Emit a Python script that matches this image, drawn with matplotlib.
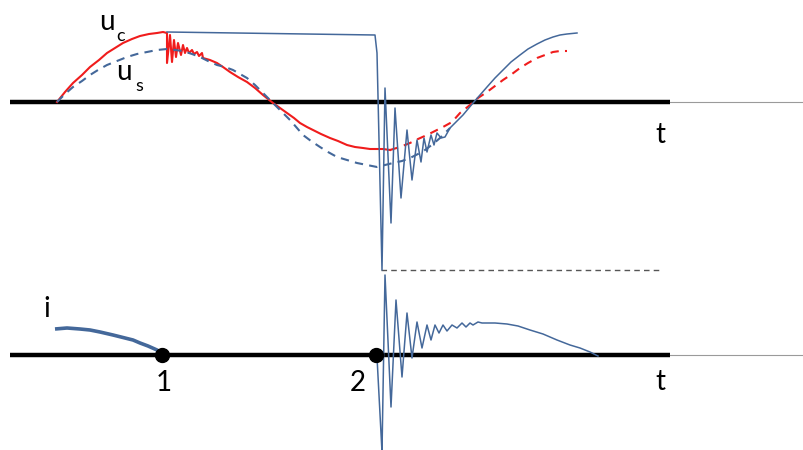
import matplotlib.pyplot as plt

# all values are pixel positions (y grows downward)
axis_top_y = 102
axis_bot_y = 355
axis_x = [10, 670]
axis_fade_x = [670, 804]

# u_c before the first opening (red, solid)
uc_x = [57, 65, 73, 82, 90, 99, 107, 115, 123, 132, 140, 149, 157, 163, 167,
        167, 170, 172, 174, 176, 178, 181, 183, 185, 187, 189, 192, 194, 197, 199, 202, 203,
        210, 217, 223, 230, 238, 247, 255, 263, 273, 280, 287, 294, 300, 307, 313, 321,
        330, 338, 347, 355, 363, 370, 377, 383, 390]
uc_y = [102, 92, 83, 75, 67, 60, 53, 48, 43, 39, 36, 34, 33, 32, 33,
        63, 35, 62, 40, 57, 43, 55, 45, 53, 48, 53, 50, 54, 52, 56, 53, 58,
        60, 63, 67, 72, 77, 82, 88, 95, 103, 108, 113, 118, 123, 127, 130, 134,
        138, 141, 145, 147, 148, 149, 149, 149, 150]
# red dashed continuation
ucd_x = [390, 400, 410, 418, 427, 435, 443, 452, 460, 470, 478, 487, 495, 503, 512,
         520, 528, 537, 545, 553, 560, 567]
ucd_y = [150, 147, 143, 139, 135, 131, 127, 122, 113, 105, 98, 92, 86, 80, 74,
         68, 63, 58, 55, 52, 51, 51]

# source voltage u_s (blue, dashed)
us_x = [57, 65, 73, 82, 90, 98, 107, 117, 127, 137, 147, 157, 167, 175, 183, 192,
        200, 208, 217, 225, 233, 240, 247, 255, 263, 270, 277, 284, 290, 297, 303,
        311, 320, 328, 337, 347, 357, 367, 377, 385, 393, 402, 410, 418, 425, 433,
        440, 450]
us_y = [102, 94, 87, 81, 75, 70, 65, 61, 57, 54, 52, 50, 49, 50, 51, 54,
        57, 61, 65, 67, 70, 74, 78, 85, 93, 100, 107, 114, 120, 128, 135,
        141, 147, 152, 157, 160, 163, 165, 167, 165, 163, 161, 158, 154, 150, 144,
        138, 128]

# capacitor voltage after opening, restrike oscillation, then following u_s
uv_x = [167, 375, 377, 382, 385, 391, 395, 401, 407, 412, 417, 421, 424, 427, 431, 434,
        437, 441, 445, 450, 453, 458, 463, 468, 473, 480, 487, 495, 503, 511, 520,
        528, 537, 545, 553, 560, 567, 577]
uv_y = [32, 35, 53, 270, 88, 223, 108, 198, 130, 180, 140, 162, 138, 152, 135, 145,
        133, 138, 137, 128, 125, 120, 115, 109, 103, 95, 87, 78, 70, 62, 55,
        49, 44, 40, 37, 35, 34, 33]

# reference level of the restrike
ref_x = [381, 660]
ref_y = 270

# current before point 1
i1_x = [55, 67, 80, 90, 100, 113, 125, 133, 140, 148, 157, 162]
i1_y = [329, 328, 329, 330, 332, 335, 338, 340, 343, 346, 350, 355]

# restrike current
i2_x = [377, 382, 385, 391, 396, 402, 407, 412, 417, 422, 427, 431, 435, 439, 443, 447,
        452, 457, 462, 466, 470, 473, 478, 482, 495, 507, 518, 530, 543, 557, 570,
        580, 590, 598]
i2_y = [357, 452, 275, 407, 300, 377, 313, 358, 322, 348, 325, 340, 325, 333, 325, 331,
        325, 328, 323, 327, 323, 325, 322, 323, 323, 324, 326, 330, 334, 340, 345,
        348, 352, 356]

points_x = [162, 376]
point_labels = ['1', '2']
point_label_x = [164, 358]

red = '#f01c1c'
blue = '#44689a'

fig = plt.figure(figsize=(8.04, 4.5), dpi=100)
ax = fig.add_axes([0, 0, 1, 1])
ax.set_xlim(0, 804)
ax.set_ylim(450, 0)
ax.axis('off')

for y in (axis_top_y, axis_bot_y):
    ax.plot(axis_x, [y, y], color='black', lw=3.2, solid_capstyle='butt', zorder=2)
    ax.plot(axis_fade_x, [y, y], color='#9a9a9a', lw=0.8, zorder=2)

ax.plot(uc_x, uc_y, color=red, lw=1.5, zorder=3)
ax.plot(ucd_x, ucd_y, color=red, lw=1.5, ls=(0, (4, 3)), zorder=3)
ax.plot(us_x, us_y, color=blue, lw=1.5, ls=(0, (4, 3)), zorder=3)
ax.plot(uv_x, uv_y, color=blue, lw=1.1, zorder=4)
ax.plot(ref_x, [ref_y, ref_y], color='#555555', lw=1.0, ls=(0, (4, 3)), zorder=3)

ax.plot(i1_x, i1_y, color=blue, lw=2.6, solid_capstyle='butt', zorder=4)
ax.plot(i2_x, i2_y, color=blue, lw=1.1, zorder=4)
ax.plot(points_x, [axis_bot_y] * 2, 'o', color='black', ms=10, zorder=5)

font = ['Lato', 'DejaVu Sans']
ax.text(107, 30, 'u', fontsize=20, family=font, ha='center', va='baseline')
ax.text(121, 41, 'c', fontsize=13, family=font, ha='center', va='baseline')
ax.text(124, 80, 'u', fontsize=20, family=font, ha='center', va='baseline')
ax.text(139, 91, 's', fontsize=13, family=font, ha='center', va='baseline')
ax.text(660, 143, 't', fontsize=20, family=font, ha='center', va='baseline')
ax.text(660, 390, 't', fontsize=20, family=font, ha='center', va='baseline')
ax.text(47, 317, 'i', fontsize=20, family=font, ha='center', va='baseline')
for lx, lab in zip(point_label_x, point_labels):
    ax.text(lx, 391, lab, fontsize=20, family=font, ha='center', va='baseline')

fig.savefig('out.png', dpi=100)
